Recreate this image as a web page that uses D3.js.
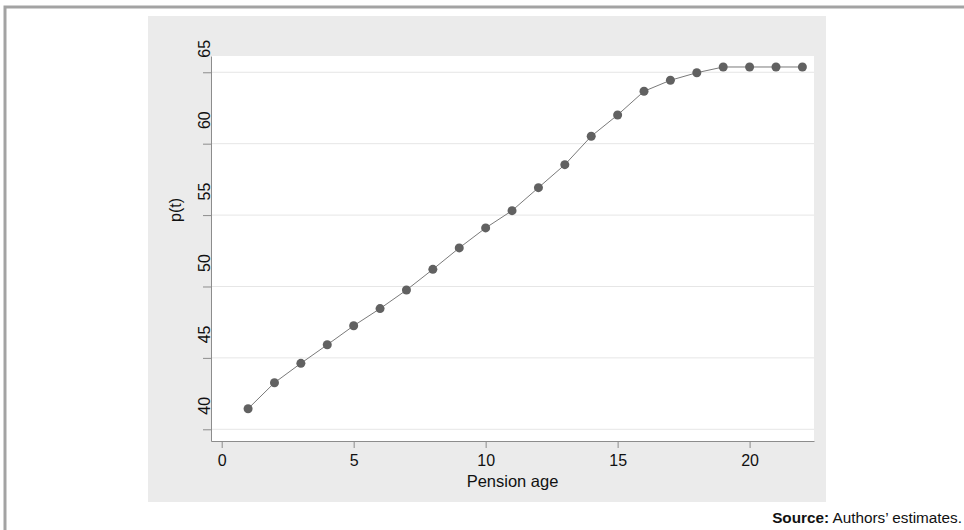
<!DOCTYPE html>
<html lang="en">
<head>
  <meta charset="utf-8">
  <title>p(t) by pension age</title>
  <script src="https://d3js.org/d3.v7.min.js"></script>
  <style>
    body { margin: 0; background: #fff; }
    text { font-family: Arial, "Liberation Sans", sans-serif; fill: #111; }
    .axis path, .axis line { stroke: #8c8c8c; }
  </style>
</head>
<body>
  <script>
    // values
    var pensionAge = [1, 2, 3, 4, 5, 6, 7, 8, 9, 10, 11, 12, 13, 14, 15, 16, 17, 18, 19, 20, 21, 22];
    var pValues = [41.44, 43.26, 44.62, 45.92, 47.25, 48.45, 49.75, 51.2, 52.7, 54.1, 55.31,
                   56.92, 58.53, 60.52, 62.01, 63.67, 64.44, 64.97, 65.37, 65.37, 65.37, 65.37];
    var xTicks = [0, 5, 10, 15, 20];
    var yTicks = [40, 45, 50, 55, 60, 65];

    var width = 964, height = 530;
    var plot = { left: 211, right: 814, top: 56, bottom: 441 };

    var svg = d3.select("body").append("svg")
      .attr("width", width)
      .attr("height", height);

    // outer frame (only top and left visible)
    svg.append("path")
      .attr("d", "M5,530V7H964")
      .attr("fill", "none")
      .attr("stroke", "#a3a3a3")
      .attr("stroke-width", 3);

    // gray graph region and white plot region
    svg.append("rect")
      .attr("x", 148).attr("y", 16)
      .attr("width", 678).attr("height", 486)
      .attr("fill", "#ebebeb");
    svg.append("rect")
      .attr("x", plot.left).attr("y", plot.top)
      .attr("width", plot.right - plot.left).attr("height", plot.bottom - plot.top)
      .attr("fill", "#fff");

    var x = d3.scaleLinear().domain([-0.405, 22.44]).range([plot.left, plot.right]);
    var y = d3.scaleLinear().domain([39.18, 66.14]).range([plot.bottom, plot.top]);

    // gridlines
    svg.append("g").selectAll("line")
      .data(yTicks)
      .enter().append("line")
      .attr("x1", plot.left).attr("x2", plot.right)
      .attr("y1", function(d) { return y(d); })
      .attr("y2", function(d) { return y(d); })
      .attr("stroke", "#e6e6e6");

    // x axis
    var gx = svg.append("g")
      .attr("class", "axis")
      .attr("transform", "translate(0," + plot.bottom + ")")
      .call(d3.axisBottom(x).tickValues(xTicks).tickSize(7).tickSizeOuter(0));
    gx.selectAll("text")
      .attr("y", 14)
      .style("font-size", "16px");

    // y axis, labels rotated like the original (sitting a bit above their ticks)
    var gy = svg.append("g")
      .attr("class", "axis")
      .attr("transform", "translate(" + plot.left + ",0)")
      .call(d3.axisLeft(y).tickValues(yTicks).tickSize(8).tickSizeOuter(0));
    gy.selectAll("text")
      .attr("transform", "rotate(-90)")
      .attr("x", 24)
      .attr("y", -1)
      .attr("dy", 0)
      .attr("text-anchor", "middle")
      .style("font-size", "16px");

    // axis titles
    svg.append("text")
      .attr("x", (plot.left + plot.right) / 2)
      .attr("y", 487)
      .attr("text-anchor", "middle")
      .style("font-size", "16.5px")
      .text("Pension age");

    svg.append("text")
      .attr("transform", "translate(181,210) rotate(-90)")
      .attr("text-anchor", "middle")
      .style("font-size", "16px")
      .text("p(t)");

    // line + markers
    var pts = pensionAge.map(function(a, i) { return { a: a, p: pValues[i] }; });

    svg.append("path")
      .datum(pts)
      .attr("fill", "none")
      .attr("stroke", "#7a7a7a")
      .attr("stroke-width", 1)
      .attr("d", d3.line()
        .x(function(d) { return x(d.a); })
        .y(function(d) { return y(d.p); }));

    svg.append("g").selectAll("circle")
      .data(pts)
      .enter().append("circle")
      .attr("cx", function(d) { return x(d.a); })
      .attr("cy", function(d) { return y(d.p); })
      .attr("r", 4.5)
      .attr("fill", "#616161");

    // source note
    var note = svg.append("text")
      .attr("x", 962)
      .attr("y", 523)
      .attr("text-anchor", "end")
      .style("font-size", "15.3px");
    note.append("tspan").style("font-weight", "bold").text("Source:");
    note.append("tspan").text(" Authors\u2019 estimates.");
  </script>
</body>
</html>
